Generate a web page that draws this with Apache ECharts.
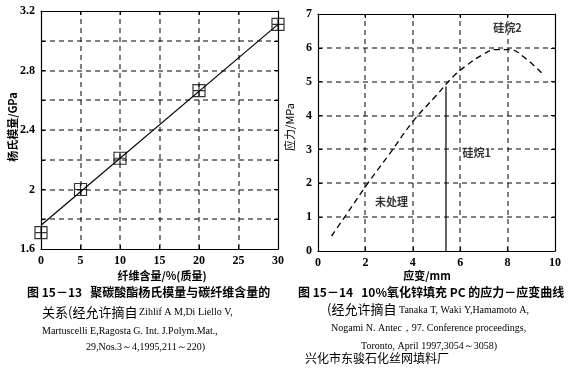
<!DOCTYPE html>
<html><head><meta charset="utf-8">
<script src="https://cdn.jsdelivr.net/npm/echarts@6/dist/echarts.min.js"></script>
<style>html,body{margin:0;padding:0;background:#fff}#c{width:570px;height:368px}</style>
</head><body><div id="c"></div>
<script>
// Left chart: Young's modulus vs fibre content
const fibreX = [0, 5, 10, 20, 30];
const modulusMarks = [1.71, 2.0, 2.21, 2.665, 3.11];
const fitX = [0, 30];
const fitY = [1.76, 3.11];
const leftXGrid = [5, 10, 15, 20, 25];
const leftYGrid = [1.8, 2.0, 2.2, 2.4, 2.6, 2.8, 3.0];
const leftYTicks = ['1.6', '', '2', '', '2.4', '', '2.8', '', '3.2'];

// Right chart: stress-strain curve
const strainX = [0.57, 1.2, 2.1, 3.0, 4.0, 5.0, 5.7, 6.3, 6.9, 7.5, 8.1, 8.7, 9.45];
const stressY = [0.44, 1.08, 2.0, 2.85, 3.82, 4.6, 5.15, 5.5, 5.78, 5.95, 5.95, 5.72, 5.25];
const rightXGrid = [2, 4, 6, 8];
const rightYGrid = [1, 2, 3, 4, 5, 6];
const silane1X = [5.4, 5.4];
const silane1Y = [4.86, 0];
const curveLabels = ['硅烷2', '硅烷1', '未处理'];
const labelPosX = [8.0, 6.7, 3.1];
const labelPosY = [6.6, 2.9, 1.45];

const serif = '"Liberation Serif","DejaVu Serif",serif';
const cjk = '"Noto Sans CJK SC",sans-serif';
const chart = echarts.init(document.getElementById('c'));

const markerPath = 'path://M0,0H10V10H0Z M5,0V10 M0,5H10';

function ax(gridIndex, min, max, interval, position, main, extra) {
  const o = {
    type: 'value', gridIndex, min, max, interval, position,
    axisLine: {show: true, onZero: false, lineStyle: {color: '#000', width: 1.2}},
    axisTick: {show: true, inside: true, length: 4, lineStyle: {color: '#000'}},
    splitLine: {show: false},
    axisLabel: {show: main, color: '#000', fontFamily: serif, fontWeight: 'bold', fontSize: 12, margin: 6}
  };
  return Object.assign(o, extra || {});
}

// Dashed grid lines: custom series placing small dash rects via the axis scales
function gridSeries(idx, xs, ys, xr, yr) {
  const data = xs.map(v => [v, 0]).concat(ys.map(v => [v, 1]));
  return {
    type: 'custom', coordinateSystem: 'cartesian2d', xAxisIndex: idx, yAxisIndex: idx,
    silent: true, z: 1, clip: false, encode: {x: 0},
    data: data,
    renderItem: function (params, api) {
      const v = api.value(0), o = api.value(1);
      let p0, p1;
      if (o === 0) { p0 = api.coord([v, yr[0]]); p1 = api.coord([v, yr[1]]); }
      else { p0 = api.coord([xr[0], v]); p1 = api.coord([xr[1], v]); }
      const children = [];
      const dash = 5, gap = 4;
      if (o === 0) {
        const x = Math.round(p0[0]) - 0.5;
        const yTop = Math.min(p0[1], p1[1]), yBot = Math.max(p0[1], p1[1]);
        for (let y = yBot; y > yTop; y -= dash + gap) {
          const h = Math.min(dash, y - yTop);
          children.push({type: 'rect', shape: {x: x, y: y - h, width: 1, height: h}, style: {fill: '#000'}});
        }
      } else {
        const y = Math.round(p0[1]) - 0.5;
        const xL = Math.min(p0[0], p1[0]), xR = Math.max(p0[0], p1[0]);
        for (let x = xL; x < xR; x += dash + gap) {
          const w = Math.min(dash, xR - x);
          children.push({type: 'rect', shape: {x: x, y: y, width: w, height: 1}, style: {fill: '#000'}});
        }
      }
      return {type: 'group', children: children};
    }
  };
}

const option = {
  animation: false,
  backgroundColor: '#fff',
  grid: [
    {left: 41, top: 11, right: 292, bottom: 119},
    {left: 318, top: 14, right: 15, bottom: 117}
  ],
  xAxis: [
    ax(0, 0, 30, 5, 'bottom', true),
    ax(1, 0, 10, 2, 'bottom', true),
    ax(0, 0, 30, 5, 'top', false),
    ax(1, 0, 10, 2, 'top', false)
  ],
  yAxis: [
    ax(0, 1.6, 3.2, 0.2, 'left', true, {
      axisLabel: {color: '#000', fontFamily: serif, fontWeight: 'bold', fontSize: 12, margin: 6,
        formatter: (v, i) => leftYTicks[i] || ''}}),
    ax(1, 0, 7, 1, 'left', true),
    ax(0, 1.6, 3.2, 0.2, 'right', false),
    ax(1, 0, 7, 1, 'right', false)
  ],
  series: [
    gridSeries(0, leftXGrid, leftYGrid, [0, 30], [1.6, 3.2]),
    gridSeries(1, rightXGrid, rightYGrid, [0, 10], [0, 7]),
    {type: 'line', xAxisIndex: 0, yAxisIndex: 0, symbol: 'none', z: 3,
      data: fitX.map((x, i) => [x, fitY[i]]),
      lineStyle: {color: '#000', width: 1.2}},
    {type: 'scatter', xAxisIndex: 0, yAxisIndex: 0, symbol: markerPath, symbolSize: 12, z: 4,
      data: fibreX.map((x, i) => [x, modulusMarks[i]]),
      itemStyle: {color: 'rgba(255,255,255,0)', borderColor: '#000', borderWidth: 1.2}},
    {type: 'line', xAxisIndex: 1, yAxisIndex: 1, symbol: 'none', smooth: 0.4, z: 3,
      data: strainX.map((x, i) => [x, stressY[i]]),
      lineStyle: {color: '#000', width: 1.3, type: [6, 4]}},
    {type: 'line', xAxisIndex: 1, yAxisIndex: 1, symbol: 'none', z: 3,
      data: silane1X.map((x, i) => [x, silane1Y[i]]),
      lineStyle: {color: '#000', width: 1.2}},
    {type: 'scatter', xAxisIndex: 1, yAxisIndex: 1, symbolSize: 0, z: 5,
      data: labelPosX.map((x, i) => ({value: [x, labelPosY[i]], name: curveLabels[i]})),
      label: {show: true, position: 'inside', formatter: p => p.name, color: '#000',
        fontFamily: cjk, fontWeight: 'bold', fontSize: 11, backgroundColor: '#fff'}}
  ],
  graphic: [
    {type: 'text', x: 13, y: 127, rotation: Math.PI / 2, style: {text: '杨氏模量/GPa', fill: '#000', font: 'bold 11px ' + cjk, align: 'center', verticalAlign: 'middle'}},
    {type: 'text', x: 162, y: 276, style: {text: '纤维含量/%(质量)', fill: '#000', font: 'bold 11px ' + cjk, align: 'center', verticalAlign: 'middle'}},
    {type: 'text', x: 290, y: 127, rotation: Math.PI / 2, style: {text: '应力/MPa', fill: '#000', font: '11px ' + cjk, align: 'center', verticalAlign: 'middle'}},
    {type: 'text', x: 427, y: 276, style: {text: '应变/mm', fill: '#000', font: 'bold 11px ' + cjk, align: 'center', verticalAlign: 'middle'}},
    {type: 'text', x: 27, y: 292, style: {text: '图 15－13   聚碳酸酯杨氏模量与碳纤维含量的', fill: '#000', font: 'bold 12px ' + cjk, verticalAlign: 'middle'}},
    {type: 'text', x: 42, y: 312, style: {text: '关系(经允许摘自', fill: '#000', font: '13px ' + cjk, verticalAlign: 'middle'}},
    {type: 'text', x: 139, y: 312, style: {text: 'Zihlif A M,Di Liello V,', fill: '#000', font: '10px ' + serif, verticalAlign: 'middle'}},
    {type: 'text', x: 42, y: 331, style: {text: 'Martuscelli E,Ragosta G. Int. J.Polym.Mat.,', fill: '#000', font: '10px ' + serif, verticalAlign: 'middle'}},
    {type: 'text', x: 86, y: 347, style: {text: '29,Nos.3～4,1995,211～220)', fill: '#000', font: '10px ' + serif, verticalAlign: 'middle'}},
    {type: 'text', x: 298, y: 292, style: {text: '图 15－14   10%氧化锌填充 PC 的应力－应变曲线', fill: '#000', font: 'bold 12px ' + cjk, verticalAlign: 'middle'}},
    {type: 'text', x: 327, y: 309, style: {text: '(经允许摘自', fill: '#000', font: '13px ' + cjk, verticalAlign: 'middle'}},
    {type: 'text', x: 399, y: 310, style: {text: 'Tanaka T, Waki Y,Hamamoto A,', fill: '#000', font: '10px ' + serif, verticalAlign: 'middle'}},
    {type: 'text', x: 331, y: 328, style: {text: 'Nogami N. Antec，97. Conference proceedings,', fill: '#000', font: '10px ' + serif, verticalAlign: 'middle'}},
    {type: 'text', x: 361, y: 346, style: {text: 'Toronto, April 1997,3054～3058)', fill: '#000', font: '10px ' + serif, verticalAlign: 'middle'}},
    {type: 'text', x: 305, y: 358, style: {text: '兴化市东骏石化丝网填料厂', fill: '#000', font: '12px ' + cjk, verticalAlign: 'middle'}}
  ]
};
chart.setOption(option);
</script>
</body></html>
